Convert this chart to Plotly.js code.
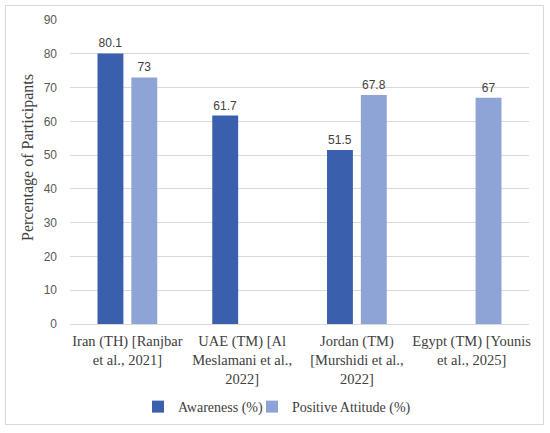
<!DOCTYPE html>
<html>
<head>
<meta charset="utf-8">
<script src="https://cdn.plot.ly/plotly-3.0.1.min.js"></script>
<style>
html,body{margin:0;padding:0;background:#fff;}
#frame{position:absolute;left:5px;top:5px;width:539px;height:420px;border:1px solid #d9d9d9;box-sizing:border-box;}
#chart{position:absolute;left:0;top:0;width:550px;height:433px;}
</style>
</head>
<body>
<div id="frame"></div>
<div id="chart"></div>
<script>
var categories = [
  "Iran (TH) [Ranjbar<br>et al., 2021]",
  "UAE (TM) [Al<br>Meslamani et al.,<br>2022]",
  "Jordan (TM)<br>[Murshidi et al.,<br>2022]",
  "Egypt (TM) [Younis<br>et al., 2025]"
];
var awareness = [80.1, 61.7, 51.5, null];
var attitude = [73, null, 67.8, 67];
var yTicks = [0, 10, 20, 30, 40, 50, 60, 70, 80, 90];
var yTitle = "Percentage of Participants";

function labels(arr){ return arr.map(function(v){ return v === null ? "" : String(v); }); }

var serif = "Liberation Serif, Times New Roman, serif";
var sans = "Liberation Sans, Arial, sans-serif";

var traces = [
  {
    type: "bar", name: "Awareness (%)", x: categories, y: awareness,
    marker: {color: "#3a60ad"}, legend: "legend",
    text: labels(awareness), textposition: "outside", cliponaxis: false,
    textfont: {family: sans, size: 12, color: "#404040"}
  },
  {
    type: "bar", name: "Positive Attitude (%)", x: categories, y: attitude,
    marker: {color: "#8fa4d6"}, legend: "legend2",
    text: labels(attitude), textposition: "outside", cliponaxis: false,
    textfont: {family: sans, size: 12, color: "#404040"}
  }
];

function legendAt(px){
  return {
    orientation: "h", x: px / 550, xanchor: "left", xref: "container",
    y: 0.06, yanchor: "middle", yref: "container",
    font: {family: serif, size: 14, color: "#404040"},
    itemwidth: 30, bgcolor: "rgba(0,0,0,0)"
  };
}

var layout = {
  width: 550, height: 433,
  margin: {l: 70, r: 21, t: 20, b: 109, autoexpand: false},
  paper_bgcolor: "rgba(0,0,0,0)",
  plot_bgcolor: "rgba(0,0,0,0)",
  barmode: "group",
  bargap: 0.41,
  bargroupgap: 0.235,
  showlegend: true,
  legend: legendAt(138),
  legend2: legendAt(252),
  xaxis: {
    type: "category", automargin: false,
    tickfont: {family: serif, size: 14.5, color: "#404040"},
    showgrid: false, showline: true, linecolor: "#d9d9d9", linewidth: 1,
    ticks: "", tickangle: 0, ticklabelstandoff: 4
  },
  yaxis: {
    range: [0, 90], tickvals: yTicks, ticktext: yTicks.map(String), automargin: false,
    showgrid: true, gridcolor: "#d9d9d9", gridwidth: 1,
    zeroline: false, showline: false, ticks: "",
    ticklabelstandoff: 12,
    tickfont: {family: sans, size: 12, color: "#595959"}
  },
  annotations: [{
    text: yTitle, textangle: -90, showarrow: false,
    xref: "paper", yref: "paper", x: -0.0915, y: 0.546,
    xanchor: "center", yanchor: "middle",
    font: {family: serif, size: 16, color: "#404040"}
  }]
};

Plotly.newPlot("chart", traces, layout, {displayModeBar: false, staticPlot: true});
</script>
</body>
</html>
